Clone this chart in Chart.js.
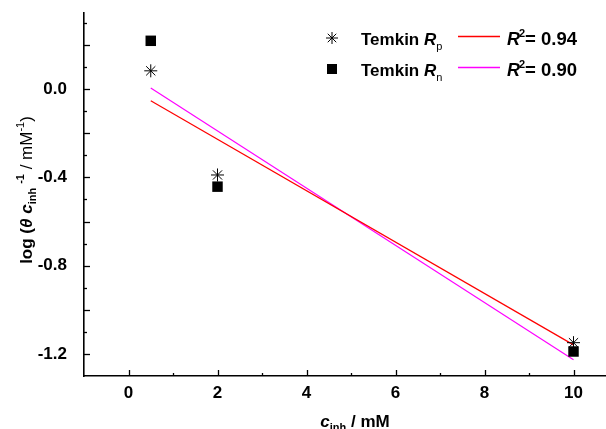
<!DOCTYPE html>
<html><head><meta charset="utf-8">
<script src="https://cdn.jsdelivr.net/npm/chart.js@4.4.0/dist/chart.umd.min.js"></script>
<style>html,body{margin:0;padding:0;background:#fff;overflow:hidden;}#wrap{width:606px;height:429px;position:relative;overflow:hidden;}canvas{display:block;}</style>
</head><body><div id="wrap"><canvas id="c"></canvas></div>
<script>
// ---- data ----
const concX = [0.5, 2, 10];
const rpValues = [0.083, -0.389, -1.149];
const rnValues = [0.219, -0.442, -1.189];
const fitX = [0.5, 10];
const rpFit = [-0.053, -1.159];
const rnFit = [0.005, -1.226];
const xTickValues = [0, 2, 4, 6, 8, 10];
const yTickValues = [-1.2, -0.8, -0.4, 0.0];
const seriesNames = ['Temkin', 'Temkin'];
const seriesSubs = ['p', 'n'];
const r2Values = ['0.94', '0.90'];

const FONT = '"Liberation Sans", Arial, sans-serif';
const B = (s) => 'bold ' + s + 'px ' + FONT;
const BI = (s) => 'italic bold ' + s + 'px ' + FONT;
const N = (s) => s + 'px ' + FONT;

function drawRich(ctx, segs, x, y, align) {
  let total = 0;
  for (const s of segs) { ctx.font = s.f; s.w = ctx.measureText(s.t).width; total += s.w + (s.dx || 0); }
  let cx = align === 'center' ? x - total / 2 : x;
  for (const s of segs) { cx += (s.dx || 0); ctx.font = s.f; ctx.fillText(s.t, cx, y + (s.dy || 0)); cx += s.w; }
  return cx;
}

const decor = {
  id: 'decor',
  afterDraw(chart) {
    const ctx = chart.ctx, xs = chart.scales.x, ys = chart.scales.y;
    const ax = chart.chartArea.left, ay = chart.chartArea.bottom;
    ctx.save();
    ctx.strokeStyle = '#000'; ctx.lineWidth = 1.3;
    for (let v = 0; v <= 10; v++) {
      const px = Math.round(xs.getPixelForValue(v)) + 0.5;
      const len = v % 2 === 0 ? 6 : 3;
      ctx.beginPath(); ctx.moveTo(px, ay); ctx.lineTo(px, ay - len); ctx.stroke();
    }
    for (let k = -12; k <= 3; k++) {
      const py = Math.round(ys.getPixelForValue(k / 10)) + 0.5;
      const len = (k % 2 === 0) ? 6 : 3;
      ctx.beginPath(); ctx.moveTo(ax, py); ctx.lineTo(ax + len, py); ctx.stroke();
    }
    ctx.fillStyle = '#000';
    ctx.textBaseline = 'alphabetic';
    drawRich(ctx, [
      {t: 'c', f: BI(17)},
      {t: 'inh', f: B(11), dy: 4},
      {t: ' / mM', f: B(17)}
    ], 355, 427, 'center');
    ctx.save();
    ctx.translate(32, 190);
    ctx.rotate(-Math.PI / 2);
    drawRich(ctx, [
      {t: 'log (', f: B(17)},
      {t: 'θ', f: BI(17)},
      {t: ' ', f: B(17)},
      {t: 'c', f: BI(17)},
      {t: 'inh', f: B(11), dy: 4},
      {t: '-1', f: B(11), dy: -8, dx: 4},
      {t: ' / mM', f: N(17)},
      {t: '-1', f: N(11), dy: -8},
      {t: ')', f: N(17)}
    ], 0, 0, 'center');
    ctx.restore();
    const rows = [
      {y: 38, color: '#ff0000', style: 'star'},
      {y: 69, color: '#ff00ff', style: 'rect'}
    ];
    rows.forEach((r, i) => {
      ctx.fillStyle = '#000';
      if (r.style === 'star') {
        ctx.lineWidth = 1; ctx.strokeStyle = '#000';
        const rr = 6;
        ctx.beginPath();
        for (let a = 0; a < 4; a++) {
          const ang = a * Math.PI / 4;
          ctx.moveTo(332 - rr * Math.cos(ang), r.y - rr * Math.sin(ang));
          ctx.lineTo(332 + rr * Math.cos(ang), r.y + rr * Math.sin(ang));
        }
        ctx.stroke();
      } else {
        ctx.fillRect(327, r.y - 5, 10, 10);
      }
      const base = r.y + 7;
      drawRich(ctx, [
        {t: seriesNames[i] + ' ', f: B(17)},
        {t: 'R', f: BI(17)},
        {t: seriesSubs[i], f: N(11), dy: 5}
      ], 361, base, 'left');
      ctx.strokeStyle = r.color; ctx.lineWidth = 1.3;
      ctx.beginPath(); ctx.moveTo(458, r.y - 1.5); ctx.lineTo(500, r.y - 1.5); ctx.stroke();
      drawRich(ctx, [
        {t: 'R', f: BI(18)},
        {t: '2', f: B(11), dy: -8, dx: -1},
        {t: '= ' + r2Values[i], f: B(18.5)}
      ], 507, base, 'left');
    });
    ctx.restore();
  }
};

new Chart(document.getElementById('c'), {
  type: 'scatter',
  data: {
    datasets: [
      {label: 'Temkin Rp', data: concX.map((x, i) => ({x, y: rpValues[i]})), pointStyle: 'star', pointRadius: 6.5, pointBorderWidth: 1, borderColor: '#000', backgroundColor: 'rgba(0,0,0,0)', order: 1},
      {label: 'Temkin Rn', data: concX.map((x, i) => ({x, y: rnValues[i]})), pointStyle: 'rect', pointRadius: 7.4, pointBorderWidth: 0, borderColor: '#000', backgroundColor: '#000', order: 2},
      {label: 'fit Rp', data: fitX.map((x, i) => ({x, y: rpFit[i]})), showLine: true, pointRadius: 0, borderColor: '#ff0000', borderWidth: 1.2, order: 3},
      {label: 'fit Rn', data: fitX.map((x, i) => ({x, y: rnFit[i]})), showLine: true, pointRadius: 0, borderColor: '#ff00ff', borderWidth: 1.2, order: 4}
    ]
  },
  options: {
    animation: false,
    responsive: true,
    maintainAspectRatio: false,
    devicePixelRatio: 1,
    layout: {autoPadding: false, padding: {top: 13, right: 0, left: 0, bottom: 0}},
    plugins: {legend: {display: false}, tooltip: {enabled: false}},
    scales: {
      x: {
        type: 'linear', min: -1, max: 10.73,
        afterBuildTicks: (s) => { s.ticks = xTickValues.map(v => ({value: v})); },
        afterFit: (s) => { s.height = 53; s.paddingLeft = 0; s.paddingRight = 0; },
        grid: {display: true, drawOnChartArea: false, drawTicks: false},
        border: {display: true, color: '#000', width: 1.6},
        ticks: {color: '#000', font: {family: FONT, size: 17, weight: 'bold'}, padding: 7, maxRotation: 0, callback: (v) => String(v)}
      },
      y: {
        type: 'linear', min: -1.3, max: 0.345,
        afterBuildTicks: (s) => { s.ticks = yTickValues.map(v => ({value: v})); },
        afterFit: (s) => { s.width = 84; s.paddingTop = 0; s.paddingBottom = 0; },
        grid: {display: true, drawOnChartArea: false, drawTicks: false},
        border: {display: true, color: '#000', width: 1.6},
        ticks: {color: '#000', font: {family: FONT, size: 17, weight: 'bold'}, padding: 17, callback: (v) => Number(v).toFixed(1)}
      }
    }
  },
  plugins: [decor]
});
</script>
</body></html>
